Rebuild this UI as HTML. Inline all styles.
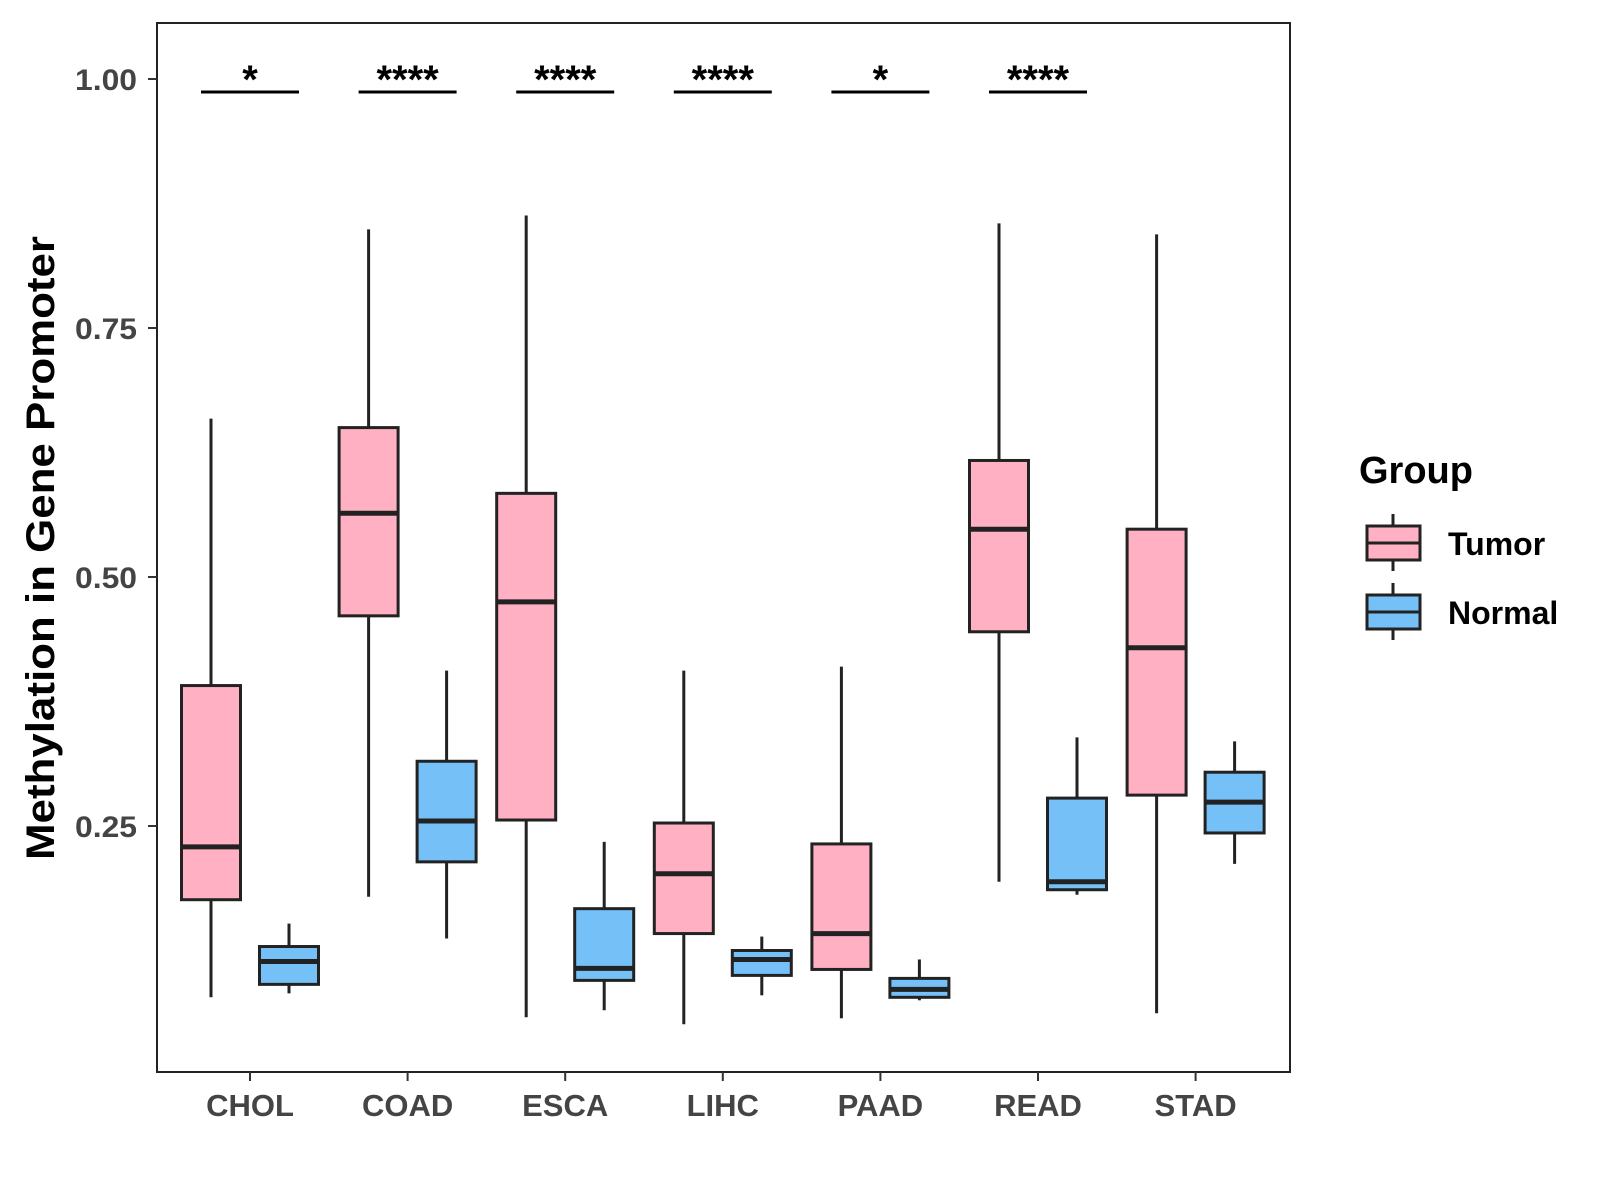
<!DOCTYPE html>
<html><head><meta charset="utf-8"><style>
body{margin:0;background:#fff}
svg{display:block;font-family:"Liberation Sans",Arial,sans-serif}
</style></head><body>
<svg id="chart" width="1600" height="1200" viewBox="0 0 1600 1200">
<rect x="157" y="23" width="1133" height="1049" fill="#fff" stroke="#222" stroke-width="2"/>
<g id="marks"></g>
<text transform="translate(54,548) rotate(-90)" text-anchor="middle" font-size="40" font-weight="bold" fill="#000" textLength="624" lengthAdjust="spacingAndGlyphs">Methylation in Gene Promoter</text>
<g>
<text x="1359" y="483" font-size="38" font-weight="bold" fill="#000">Group</text>
<g>
<line x1="1393" y1="514" x2="1393" y2="571" stroke="#222" stroke-width="3"/>
<rect x="1367" y="526" width="53" height="34" fill="#FFB0C3" stroke="#222" stroke-width="3"/>
<line x1="1367" y1="543" x2="1420" y2="543" stroke="#222" stroke-width="3"/>
<text x="1448" y="555" font-size="32" font-weight="bold" fill="#000">Tumor</text></g>
<g>
<line x1="1393" y1="583" x2="1393" y2="640" stroke="#222" stroke-width="3"/>
<rect x="1367" y="595" width="53" height="34" fill="#75C1F7" stroke="#222" stroke-width="3"/>
<line x1="1367" y1="612" x2="1420" y2="612" stroke="#222" stroke-width="3"/>
<text x="1448" y="624" font-size="32" font-weight="bold" fill="#000">Normal</text></g>
</g>
</svg>
<script>
const categories=["CHOL","COAD","ESCA","LIHC","PAAD","READ","STAD"];
const tumorMin=[0.078,0.179,0.058,0.051,0.057,0.194,0.062];
const tumorQ1=[0.176,0.461,0.256,0.142,0.106,0.445,0.281];
const tumorMed=[0.229,0.564,0.475,0.202,0.142,0.548,0.429];
const tumorQ3=[0.391,0.650,0.584,0.253,0.232,0.617,0.548];
const tumorMax=[0.659,0.849,0.863,0.406,0.410,0.855,0.844];
const normalMin=[0.082,0.137,0.065,0.080,0.075,0.181,0.212];
const normalQ1=[0.091,0.214,0.095,0.100,0.078,0.186,0.243];
const normalMed=[0.114,0.255,0.107,0.116,0.086,0.194,0.274];
const normalQ3=[0.129,0.315,0.167,0.125,0.097,0.278,0.304];
const normalMax=[0.152,0.406,0.234,0.139,0.116,0.339,0.335];
const signif=["*","****","****","****","*","****",""];
const yTicks=[0.25,0.50,0.75,1.00];
const yTickLabels=["0.25","0.50","0.75","1.00"];

const NS="http://www.w3.org/2000/svg";
const g=document.getElementById('marks');
function y(v){return 79+(1-v)*996;}
function x(i){return 250+i*157.6;}
function mk(t,a,p){const e=document.createElementNS(NS,t);for(const k in a)e.setAttribute(k,a[k]);(p||g).appendChild(e);return e;}
yTicks.forEach((v,i)=>{
 const l=mk('line',{x1:148,x2:157,y1:y(v),y2:y(v),stroke:'#333','stroke-width':2});
 
 
 const t=mk('text',{x:137,y:y(v)+11,'text-anchor':'end','font-size':30,'font-weight':'bold',fill:'#444',textLength:62,lengthAdjust:'spacingAndGlyphs'});
 t.textContent=yTickLabels[i];
 
 
});
categories.forEach((c,i)=>{
 const cx=x(i);
 const l=mk('line',{x1:cx,x2:cx,y1:1072,y2:1081,stroke:'#333','stroke-width':2});
 
 
 const t=mk('text',{x:cx,y:1116,'text-anchor':'middle','font-size':31,'font-weight':'bold',fill:'#444'});
 t.textContent=c;
 
 
 function box(off,mn,q1,md,q3,mx,fill,name){
  const bx=cx+off, grp=mk('g',{});
  
  
  mk('line',{x1:bx,x2:bx,y1:y(mx),y2:y(mn),stroke:'#222','stroke-width':3},grp);
  mk('rect',{x:bx-29.5,y:y(q3),width:59,height:y(q1)-y(q3),fill:fill,stroke:'#222','stroke-width':3},grp);
  mk('line',{x1:bx-29.5,x2:bx+29.5,y1:y(md),y2:y(md),stroke:'#222','stroke-width':5},grp);
 }
 box(-39,tumorMin[i],tumorQ1[i],tumorMed[i],tumorQ3[i],tumorMax[i],'#FFB0C3','box-tumor-'+c.toLowerCase());
 box(39,normalMin[i],normalQ1[i],normalMed[i],normalQ3[i],normalMax[i],'#75C1F7','box-normal-'+c.toLowerCase());
 if(signif[i]){
  const b=mk('line',{x1:cx-49,x2:cx+49,y1:92,y2:92,stroke:'#000','stroke-width':3});
  
  
  const s=mk('text',{x:cx,y:93,'text-anchor':'middle','font-size':40,'font-weight':'bold',fill:'#000'});
  s.textContent=signif[i];
  
  
 }
});
</script>
</body></html>
